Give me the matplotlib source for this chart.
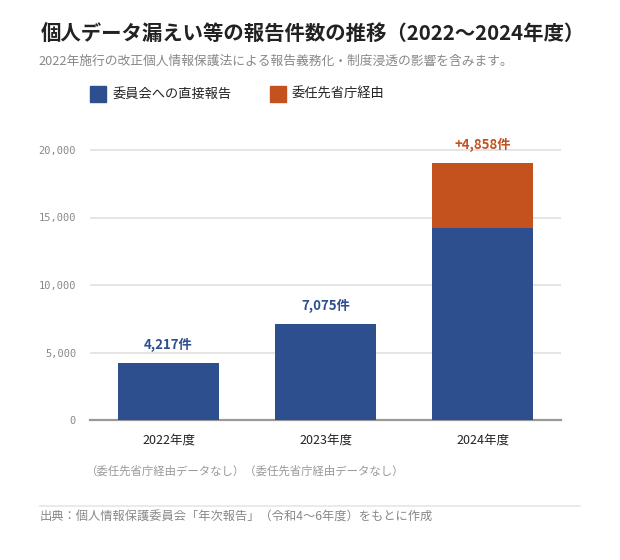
import matplotlib.pyplot as plt
from matplotlib.lines import Line2D
from matplotlib.patches import Rectangle

plt.rcParams['font.family'] = ['Noto Sans CJK JP', 'DejaVu Sans']

# データ
years = ['2022年度', '2023年度', '2024年度']
direct = [4217, 7075, 14198]
via_ministry = [0, 0, 4858]
labels_top = ['4,217件', '7,075件', '+4,858件']
yticks = [0, 5000, 10000, 15000, 20000]

BLUE = '#2D4F8E'
ORANGE = '#C4521F'
W, H = 620, 560

fig = plt.figure(figsize=(6.2, 5.6), dpi=100)


def fx(px):
    return px / W


def fy(py):
    return 1 - py / H


ax = fig.add_axes([fx(90), fy(420), fx(561) - fx(90), fy(136.5) - fy(420)])
x = range(len(years))
ax.bar(x, direct, width=0.64, color=BLUE, zorder=3)
ax.bar(x, via_ministry, width=0.64, bottom=direct, color=ORANGE, zorder=3)

ax.set_xlim(-0.5, 2.5)
ax.set_ylim(0, 21000)
ax.set_yticks(yticks)
ax.set_yticklabels([f'{v:,}' for v in yticks], color='#888888', fontsize=7.5,
                   family=['DejaVu Sans Mono'])
ax.set_xticks(list(x))
ax.set_xticklabels(years, fontsize=9, color='#222222')
ax.tick_params(axis='both', length=0)
ax.tick_params(axis='y', pad=10)
ax.tick_params(axis='x', pad=10)
for s in ['top', 'right', 'left']:
    ax.spines[s].set_visible(False)
ax.spines['bottom'].set_color('#999999')
ax.spines['bottom'].set_linewidth(1.6)
ax.grid(axis='y', color='#e0e0e0', linewidth=1.2, zorder=0)

# 値ラベル
for i in range(len(years)):
    total = direct[i] + via_ministry[i]
    col = ORANGE if via_ministry[i] > 0 else BLUE
    ax.annotate(labels_top[i], (i, total), xytext=(0, 8), textcoords='offset points',
                ha='center', va='bottom', fontsize=9.5, fontweight='bold', color=col)

# タイトル
fig.text(fx(41), fy(33), '個人データ漏えい等の報告件数の推移（2022〜2024年度）',
         fontsize=14.7, fontweight='bold', color='#222222', va='center')
fig.text(fx(38), fy(61), '2022年施行の改正個人情報保護法による報告義務化・制度浸透の影響を含みます。',
         fontsize=9.2, color='#888888', va='center')

# 凡例
fig.patches.append(Rectangle((fx(90), fy(102)), fx(16), fy(86) - fy(102),
                             transform=fig.transFigure, color=BLUE))
fig.text(fx(113), fy(94), '委員会への直接報告', fontsize=9.5, color='#222222', va='center')
fig.patches.append(Rectangle((fx(270), fy(102)), fx(16), fy(86) - fy(102),
                             transform=fig.transFigure, color=ORANGE))
fig.text(fx(292), fy(94), '委任先省庁経由', fontsize=9.5, color='#222222', va='center')

# 注記
fig.text(fx(85), fy(471), '（委任先省庁経由データなし）（委任先省庁経由データなし）',
         fontsize=8.2, color='#999999', va='center')

# 出典
fig.add_artist(Line2D([fx(40), fx(580)], [fy(506), fy(506)], color='#e6e6e6', linewidth=1.2))
fig.text(fx(40), fy(517), '出典：個人情報保護委員会「年次報告」（令和4〜6年度）をもとに作成',
         fontsize=8.8, color='#888888', va='center')

fig.savefig('out.png', dpi=100, facecolor='white')
